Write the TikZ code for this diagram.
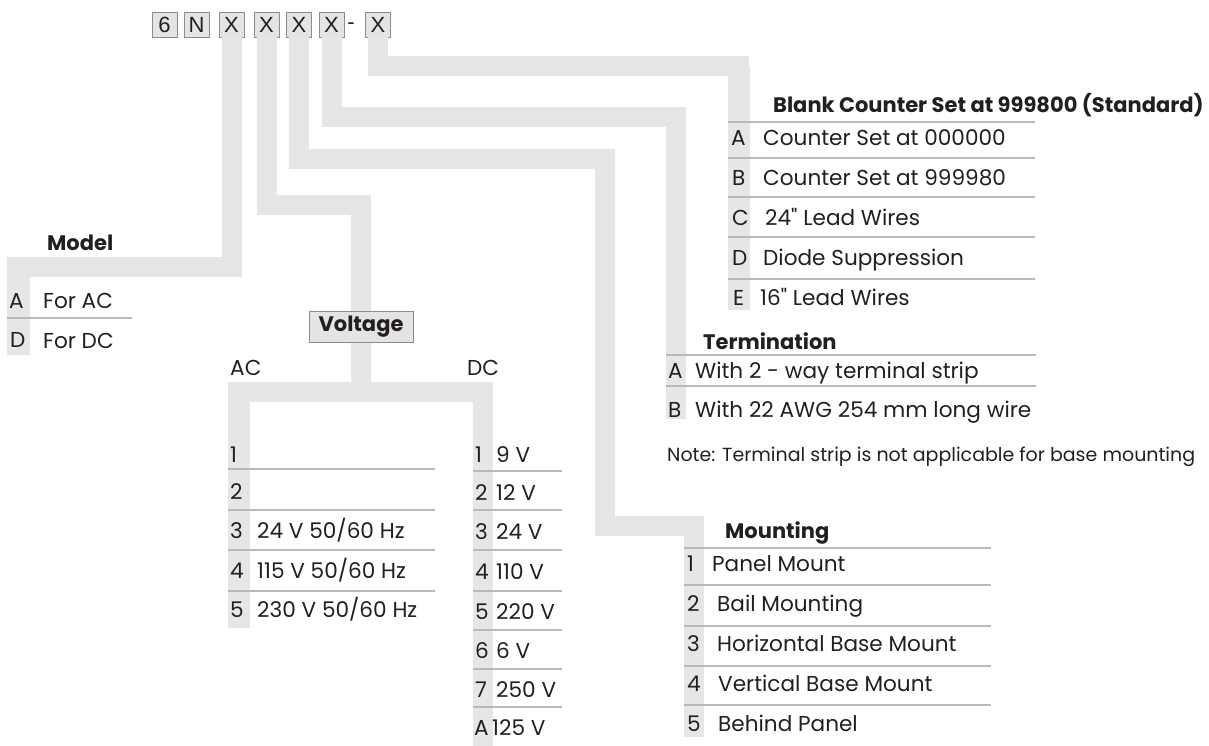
\documentclass[tikz,border=0pt]{standalone}
\usepackage{fontspec}
\setmainfont{Poppins}
\newfontfamily\boxfont{Liberation Sans}
\definecolor{barc}{HTML}{E5E6E8}
\definecolor{sepc}{HTML}{B9B9BB}
\definecolor{boxf}{HTML}{E4E4E4}
\definecolor{boxb}{HTML}{8C8C8C}
\definecolor{txt}{HTML}{231F20}
\newcommand{\dq}{\textquotedbl}
\begin{document}
\begin{tikzpicture}[x=1pt,y=-1pt,
  bar/.style={line width=20pt, draw=barc, line cap=butt, line join=miter},
  sep/.style={draw=sepc, line width=1.3pt},
  code/.style={draw=boxb, fill=boxf, line width=0.9pt, minimum width=25pt, minimum height=25pt, inner sep=0pt, font=\boxfont\fontsize{22}{22}\selectfont, text=txt},
  row/.style={anchor=west, inner sep=0pt, text height=15.1pt, text depth=0pt, font=\fontsize{21.6}{24}\selectfont, text=txt},
  hd/.style={anchor=west, inner sep=0pt, text height=14.7pt, text depth=0pt, font=\bfseries\fontsize{21}{24}\selectfont, text=txt},
  note/.style={anchor=west, inner sep=0pt, text height=13.3pt, text depth=0pt, font=\fontsize{19}{22}\selectfont, text=txt},
  vbox/.style={draw=boxb, fill=boxf, line width=0.9pt, minimum width=104pt, minimum height=31pt, inner sep=0pt, font=\bfseries\fontsize{21}{24}\selectfont, text=txt}]
\useasboundingbox (0,0) rectangle (1209,746);
% code boxes
\node[code] (c6) at (164.5,24.5) {6};
\node[code] (cN) at (196.5,24.5) {N};
\node[code] (x1) at (231.5,24.5) {X};
\node[code] (x2) at (266.5,24.5) {X};
\node[code] (x3) at (299,24.5) {X};
\node[code] (x4) at (331.5,24.5) {X};
\node[inner sep=0pt, font=\boxfont\fontsize{22}{22}\selectfont, text=txt] (dash) at (351,26) {-};
\node[code] (x5) at (378,24.5) {X};
% voltage box (placed first for anchors)
\node[vbox] (volt) at (361,326.5) {Voltage};
% coordinates
\coordinate (mEnd) at (7,267);
\coordinate (vTurn) at (361,205);
\coordinate (vSplit) at (361,392);
\coordinate (vL) at (228,392);
\coordinate (vR) at (493,392);
\coordinate (tTurn) at (676,117);
\coordinate (tEnd) at (676,419);
\coordinate (cTurn) at (739,66);
\coordinate (cEnd) at (739,310);
\coordinate (mTurnA) at (604.5,159.5);
\coordinate (mTurnB) at (694,525.5);
\coordinate (mtEnd) at (694,737);
% bars
\fill[barc] (7,257) rectangle (30,355);
\draw[bar] (x1.south) |- (mEnd);
\draw[bar] (x2.south) |- (vTurn) -- (volt.north);
\draw[bar] (volt.south) -- (vSplit);
\draw[bar] (vL) -- (vR);
\fill[barc] (228,383) rectangle (250,628);
\fill[barc] (473,383) rectangle (493,746);
\draw[bar] (x4.south) |- (tTurn) -- (tEnd);
\draw[bar] (x5.south) |- (cTurn) -- (cEnd);
\fill[barc] (728,66) rectangle (750,310);
\draw[bar] (x3.south) |- (mTurnA) |- (mTurnB) -- (mtEnd);
\node[vbox] (volt2) at (volt) {Voltage};
% Model
\node[hd] (mhd) at (47,243) {Model};
\draw[sep] (7,318) -- (132,318);
\node[row] (ma) at (9,301) {A};
\node[row] (mat) at (43,301) {For AC};
\node[row] (md) at (10,340) {D};
\node[row] (mdt) at (43,341) {For DC};
% Counter
\node[hd] (chd) at (773,105) {Blank Counter Set at 999800 (Standard)};
\foreach \yy in {122,158,197,237,279} \draw[sep] (728,\yy) -- (1035,\yy);
\node[row] (ca) at (731,138) {A};
\node[row] (cat) at (763,138) {Counter Set at 000000};
\node[row] (cb) at (732,178) {B};
\node[row] (cbt) at (763,178) {Counter Set at 999980};
\node[row] (cc) at (732,218) {C};
\node[row] (cct) at (765,218) {24\dq\ Lead Wires};
\node[row] (cd) at (732,258) {D};
\node[row] (cdt) at (763,258) {Diode Suppression};
\node[row] (ce) at (733,298) {E};
\node[row] (cet) at (760,298) {16\dq\ Lead Wires};
% Termination
\node[hd] (thd) at (703,342) {Termination};
\draw[sep] (666,355) -- (1036,355);
\draw[sep] (666,386) -- (1036,386);
\node[row] (ta) at (668,371) {A};
\node[row] (tat) at (695,371) {With 2 - way terminal strip};
\node[row] (tb) at (668,410) {B};
\node[row] (tbt) at (695,410) {With 22 AWG 254 mm long wire};
\node[note] (tnote) at (667,455) {Note: Terminal strip is not applicable for base mounting};
% Mounting
\node[hd] (mohd) at (725,531) {Mounting};
\foreach \yy in {548,585,626,666,705} \draw[sep] (684,\yy) -- (991,\yy);
\node[row] (m1) at (687,564) {1};
\node[row] (m1t) at (712,564) {Panel Mount};
\node[row] (m2) at (687,604) {2};
\node[row] (m2t) at (717,604) {Bail Mounting};
\node[row] (m3) at (687,644) {3};
\node[row] (m3t) at (717,644) {Horizontal Base Mount};
\node[row] (m4) at (687,684) {4};
\node[row] (m4t) at (718,684) {Vertical Base Mount};
\node[row] (m5) at (687,724) {5};
\node[row] (m5t) at (718,724) {Behind Panel};
% AC
\node[row] (ac) at (230,368) {AC};
\node[row] (dc) at (467,368) {DC};
\foreach \yy in {469,510,550,591} \draw[sep] (228,\yy) -- (435,\yy);
\node[row] (a1) at (230,455) {1};
\node[row] (a2) at (230,492) {2};
\node[row] (a3) at (230,531) {3};
\node[row] (a3t) at (257,531) {24 V 50/60 Hz};
\node[row] (a4) at (230,571) {4};
\node[row] (a4t) at (257,571) {115 V 50/60 Hz};
\node[row] (a5) at (230,610) {5};
\node[row] (a5t) at (257,610) {230 V 50/60 Hz};
% DC
\foreach \yy in {471,510,550,591,630,669,707} \draw[sep] (473,\yy) -- (562,\yy);
\node[row] (d1) at (475,455) {1};
\node[row] (d1t) at (496,455) {9 V};
\node[row] (d2) at (475,493) {2};
\node[row] (d2t) at (496,493) {12 V};
\node[row] (d3) at (475,532) {3};
\node[row] (d3t) at (496,532) {24 V};
\node[row] (d4) at (475,572) {4};
\node[row] (d4t) at (496,572) {110 V};
\node[row] (d5) at (475,612) {5};
\node[row] (d5t) at (496,612) {220 V};
\node[row] (d6) at (475,651) {6};
\node[row] (d6t) at (496,651) {6 V};
\node[row] (d7) at (475,690) {7};
\node[row] (d7t) at (496,690) {250 V};
\node[row] (d8) at (474,728) {A};
\node[row] (d8t) at (492,728) {125 V};
\end{tikzpicture}
\end{document}
